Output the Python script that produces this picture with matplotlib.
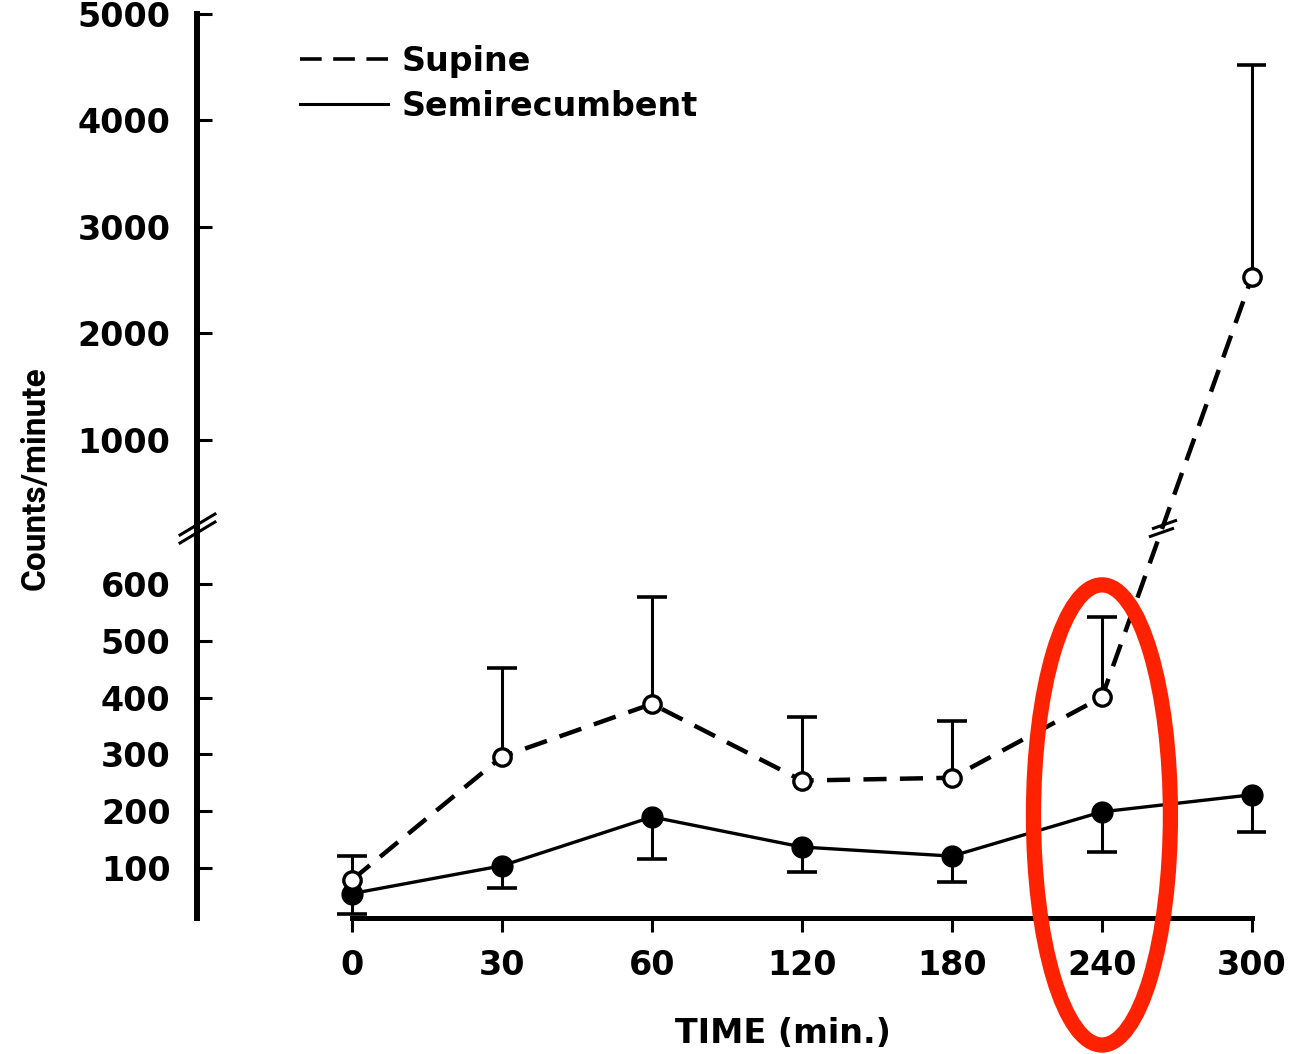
import numpy as np
import matplotlib
matplotlib.use('Agg')
import matplotlib.pyplot as plt
from matplotlib.lines import Line2D
from matplotlib.patches import Ellipse

time_labels = ['0', '30', '60', '120', '180', '240', '300']
supine = [79, 296, 389, 254, 259, 401, 2530]
supine_upper = [121, 452, 577, 366, 359, 542, 4520]
semirecumbent = [55, 104, 190, 137, 121, 199, 229]
semirecumbent_lower = [19, 65, 116, 93, 76, 128, 164]
y_ticks = [100, 200, 300, 400, 500, 600, 1000, 2000, 3000, 4000, 5000]

# broken y scale: 0-600 full size, 600-1000 squeezed, 1000-5000 compressed
scale_v = [0, 600, 1000, 5000]
scale_u = [0, 600, 854, 1604]
break_vals = [745, 767]


def fwd(v):
    v = np.asarray(v, dtype=float)
    hi = scale_u[-1] + (v - scale_v[-1]) * 0.1875
    return np.where(v > scale_v[-1], hi, np.where(v < 0, v, np.interp(v, scale_v, scale_u)))


def inv(u):
    u = np.asarray(u, dtype=float)
    hi = scale_v[-1] + (u - scale_u[-1]) / 0.1875
    return np.where(u > scale_u[-1], hi, np.where(u < 0, u, np.interp(u, scale_u, scale_v)))


plt.rcParams['font.family'] = 'DejaVu Sans'
plt.rcParams['font.weight'] = 'bold'

W, H = 1307, 1054
fig = plt.figure(figsize=(W / 100, H / 100), dpi=100)
ax = fig.add_axes([197 / W, (H - 918) / H, (1265 - 197) / W, (918 - 14) / H])

x = np.arange(len(time_labels))

ax.set_yscale('function', functions=(fwd, inv))
ax.set_ylim(12, 5000)
ax.set_xlim(-1.033, 6.087)

# error bars, one-sided
ax.vlines(x, supine, supine_upper, color='k', lw=2.2, zorder=2)
ax.plot(x, supine_upper, ls='none', marker='_', ms=22, mew=2.6, color='k', zorder=2)
ax.vlines(x, semirecumbent_lower, semirecumbent, color='k', lw=2.2, zorder=2)
ax.plot(x, semirecumbent_lower, ls='none', marker='_', ms=22, mew=2.6, color='k', zorder=2)

ax.plot(x, semirecumbent, color='k', lw=2.4, marker='o', ms=15,
        mfc='k', mec='k', zorder=3)
ax.plot(x, supine, color='k', lw=3.2, ls=(0, (5.2, 3.0)), marker='o', ms=12.5,
        mfc='white', mec='k', mew=2.4, zorder=4)

# break marks on the axis and on the supine line
slash_axis = dict(marker=[(-1, -0.6), (1, 0.6)], ms=27, mew=2.2, ls='none',
                  color='k', clip_on=False, zorder=5)
ax.plot([0, 0], break_vals, transform=ax.get_yaxis_transform(), **slash_axis)
fu = fwd(supine)
xb = np.interp(fwd(break_vals), fu[5:], x[5:])
ax.plot(xb, break_vals, marker=[(-1, -0.35), (1, 0.35)], ms=18, mew=2.2,
        ls='none', color='k', zorder=5)

ax.set_xticks(x)
ax.set_xticklabels(time_labels)
ax.set_yticks(y_ticks)
ax.set_yticklabels([str(t) for t in y_ticks])
ax.minorticks_off()
ax.tick_params(axis='y', direction='in', length=11, width=2.2, pad=19, labelsize=24)
ax.tick_params(axis='x', direction='out', length=10, width=2.2, pad=12, labelsize=24)

for s in ['top', 'right']:
    ax.spines[s].set_visible(False)
ax.spines['left'].set_linewidth(4.3)
ax.spines['bottom'].set_linewidth(3.6)
ax.spines['bottom'].set_bounds(0, 6)

ax.set_xlabel('TIME (min.)', fontsize=24, fontweight='bold')
ax.xaxis.set_label_coords(0.549, -0.11)
ax.set_ylabel('Counts/minute', fontsize=24, fontweight='bold',
              family=['Roboto', 'DejaVu Sans'])
ax.yaxis.set_label_coords(-0.136, 0.487)

handles = [Line2D([], [], color='k', lw=2.6, ls=(0, (6.0, 3.2))),
           Line2D([], [], color='k', lw=2.2)]
ax.legend(handles, ['Supine', 'Semirecumbent'], loc='upper left',
          bbox_to_anchor=(0.0964, 0.966), frameon=False, fontsize=24,
          handlelength=2.64, handletextpad=0.42, labelspacing=0.36,
          borderpad=0, borderaxespad=0)

# highlight around the 240 min point
ax.add_patch(Ellipse((5, 0.114), width=0.913, height=0.509,
                     transform=ax.get_xaxis_transform(), fill=False,
                     ec='#ff2200', lw=11, clip_on=False, zorder=10))

fig.savefig('out.png', dpi=100)
